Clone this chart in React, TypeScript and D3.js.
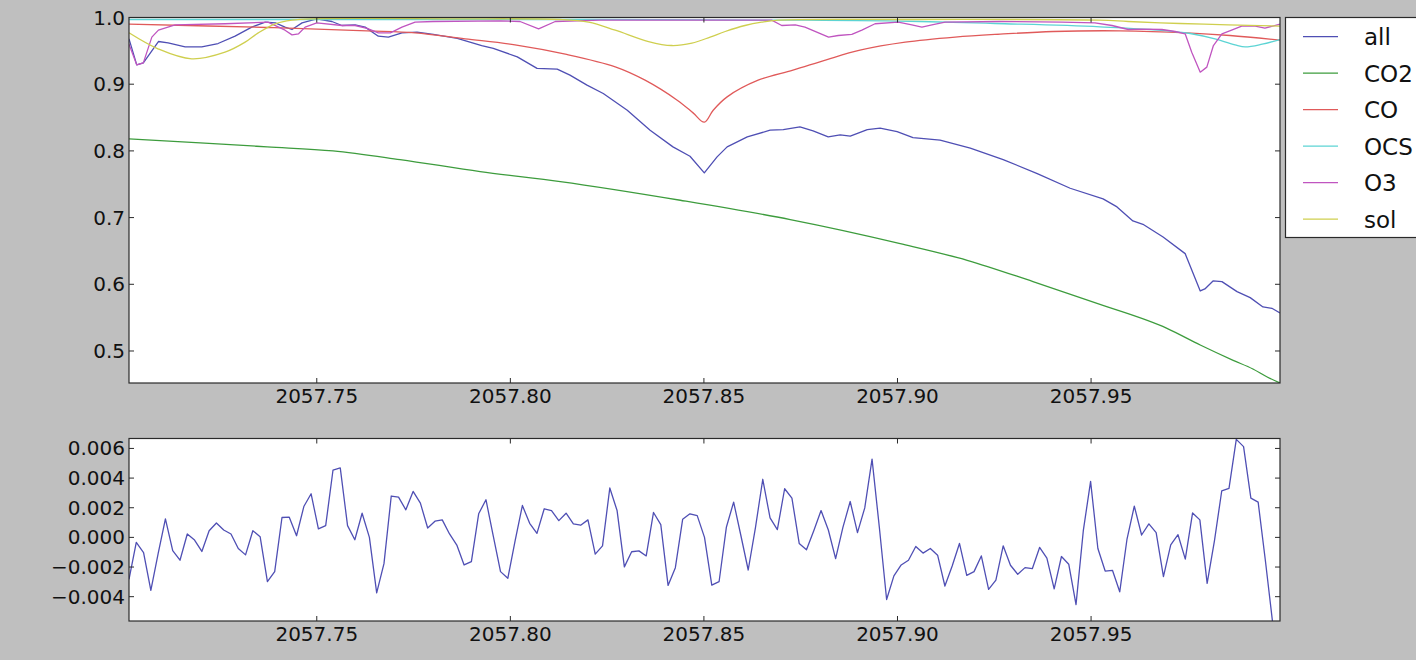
import React from "react";
import * as d3 from "d3";

// ---------- data ----------
const X_TICKS = [2057.75, 2057.8, 2057.85, 2057.9, 2057.95];
const TOP_Y_TICKS = [0.5, 0.6, 0.7, 0.8, 0.9, 1.0];
const RES_Y_TICKS = [-0.004, -0.002, 0.0, 0.002, 0.004, 0.006];
const X_DOMAIN = [2057.7015, 2057.9988];
const TOP_Y_DOMAIN = [0.452, 1.0];
const RES_Y_DOMAIN = [-0.00564, 0.00667];

const SERIES_NAMES = ["all", "CO2", "CO", "OCS", "O3", "sol"];
const SERIES_COLORS = ["#4f4fb4", "#3d9c3d", "#e05a5a", "#5cd4d4", "#c055c0", "#cfcf4f"];

const allX = [2057.7015, 2057.7035, 2057.7052, 2057.7074, 2057.7091, 2057.7116, 2057.716, 2057.7203, 2057.7245, 2057.7289, 2057.7332, 2057.7367, 2057.7393, 2057.7418, 2057.7436, 2057.7462, 2057.75, 2057.7539, 2057.7565, 2057.7599, 2057.7625, 2057.7659, 2057.7685, 2057.772, 2057.7759, 2057.7801, 2057.7863, 2057.7926, 2057.7956, 2057.8018, 2057.8069, 2057.8121, 2057.8154, 2057.8198, 2057.824, 2057.8302, 2057.8361, 2057.842, 2057.8464, 2057.8501, 2057.8534, 2057.856, 2057.8612, 2057.8671, 2057.8705, 2057.8748, 2057.8782, 2057.8821, 2057.8852, 2057.8878, 2057.8922, 2057.8955, 2057.8999, 2057.904, 2057.911, 2057.9188, 2057.9273, 2057.9361, 2057.9446, 2057.9531, 2057.9567, 2057.9608, 2057.9634, 2057.9686, 2057.9743, 2057.9782, 2057.9794, 2057.9815, 2057.9838, 2057.9877, 2057.9911, 2057.9944, 2057.9967, 2057.9988];
const allY = [0.968, 0.929, 0.932, 0.95, 0.964, 0.962, 0.956, 0.956, 0.961, 0.972, 0.9856, 0.993, 0.992, 0.9856, 0.982, 0.992, 0.998, 0.994, 0.988, 0.989, 0.9856, 0.972, 0.9706, 0.977, 0.978, 0.9746, 0.9687, 0.958, 0.9537, 0.941, 0.9237, 0.9226, 0.9136, 0.8987, 0.886, 0.861, 0.831, 0.806, 0.792, 0.767, 0.791, 0.806, 0.821, 0.831, 0.832, 0.836, 0.83, 0.821, 0.824, 0.822, 0.832, 0.834, 0.829, 0.82, 0.816, 0.804, 0.787, 0.766, 0.744, 0.728, 0.716, 0.695, 0.69, 0.671, 0.646, 0.59, 0.593, 0.605, 0.604, 0.589, 0.58, 0.566, 0.564, 0.557];

const co2X = [2057.7015, 2057.7199, 2057.7372, 2057.7542, 2057.7715, 2057.7922, 2057.8129, 2057.8439, 2057.8723, 2057.9007, 2057.918, 2057.935, 2057.9523, 2057.9696, 2057.9782, 2057.9867, 2057.9918, 2057.9955, 2057.9988];
const co2Y = [0.818, 0.812, 0.806, 0.8, 0.787, 0.769, 0.754, 0.726, 0.697, 0.661, 0.636, 0.604, 0.57, 0.534, 0.509, 0.486, 0.473, 0.461, 0.452];

const coX = [2057.7015, 2057.7372, 2057.763, 2057.7754, 2057.7883, 2057.8012, 2057.8142, 2057.8271, 2057.8348, 2057.8431, 2057.8472, 2057.8501, 2057.8524, 2057.856, 2057.864, 2057.873, 2057.8818, 2057.8903, 2057.902, 2057.9149, 2057.9265, 2057.9402, 2057.9575, 2057.9748, 2057.9859, 2057.9988];
const coY = [0.99, 0.985, 0.98, 0.977, 0.968, 0.959, 0.945, 0.926, 0.906, 0.876, 0.857, 0.843, 0.861, 0.881, 0.906, 0.921, 0.937, 0.951, 0.963, 0.9706, 0.975, 0.979, 0.98, 0.977, 0.973, 0.966];

const ocsX = [2057.7015, 2057.8232, 2057.8748, 2057.9058, 2057.9252, 2057.9523, 2057.9652, 2057.9756, 2057.982, 2057.9872, 2057.9898, 2057.9942, 2057.9988];
const ocsY = [0.997, 0.997, 0.996, 0.994, 0.991, 0.986, 0.982, 0.976, 0.968, 0.959, 0.956, 0.96, 0.967];

const o3X = [2057.7015, 2057.7035, 2057.7052, 2057.7074, 2057.7091, 2057.7134, 2057.7263, 2057.7374, 2057.7418, 2057.7436, 2057.7453, 2057.747, 2057.75, 2057.7565, 2057.7599, 2057.763, 2057.7659, 2057.769, 2057.772, 2057.7754, 2057.7801, 2057.7974, 2057.8025, 2057.8073, 2057.8116, 2057.8232, 2057.8675, 2057.8701, 2057.8736, 2057.8761, 2057.8822, 2057.8847, 2057.8882, 2057.8908, 2057.8942, 2057.9002, 2057.9037, 2057.9063, 2057.9089, 2057.9123, 2057.9265, 2057.9424, 2057.951, 2057.9554, 2057.9596, 2057.9631, 2057.9683, 2057.9717, 2057.9743, 2057.976, 2057.9782, 2057.9799, 2057.9816, 2057.9838, 2057.9863, 2057.9889, 2057.9924, 2057.9949, 2057.9988];
const o3Y = [0.96, 0.929, 0.932, 0.9706, 0.981, 0.989, 0.9906, 0.993, 0.981, 0.974, 0.9756, 0.9856, 0.992, 0.988, 0.988, 0.9836, 0.977, 0.977, 0.9856, 0.993, 0.994, 0.995, 0.994, 0.983, 0.994, 0.996, 0.996, 0.988, 0.989, 0.9856, 0.9706, 0.973, 0.9746, 0.981, 0.9906, 0.993, 0.989, 0.9856, 0.989, 0.993, 0.994, 0.993, 0.992, 0.988, 0.982, 0.9826, 0.982, 0.979, 0.9756, 0.948, 0.918, 0.9256, 0.958, 0.9756, 0.981, 0.987, 0.987, 0.984, 0.99];

const solX = [2057.7015, 2057.709, 2057.7177, 2057.7263, 2057.7315, 2057.7349, 2057.7393, 2057.7436, 2057.7487, 2057.7845, 2057.8129, 2057.8202, 2057.8271, 2057.8357, 2057.8417, 2057.8469, 2057.8516, 2057.8555, 2057.8606, 2057.8649, 2057.8692, 2057.9007, 2057.9523, 2057.9596, 2057.973, 2057.9854, 2057.9988];
const solY = [0.977, 0.953, 0.938, 0.948, 0.963, 0.977, 0.9906, 0.996, 0.998, 0.998, 0.997, 0.993, 0.981, 0.964, 0.958, 0.9616, 0.9706, 0.979, 0.988, 0.993, 0.996, 0.997, 0.996, 0.994, 0.991, 0.989, 0.987];

const RES_X_START = 2057.7015;
const RES_X_END = 2057.9988;
const residual = [
  -0.00283, -0.00034, -0.00102, -0.00358, -0.0011, 0.00125, -0.0009, -0.00154, 0.00023, -0.00018,
  -0.00095, 0.00045, 0.00097, 0.0005, 0.00023, -0.00075, -0.00118, 0.00045, 0.00005, -0.00299,
  -0.00231, 0.00134, 0.00136, 0.00011, 0.00208, 0.00294, 0.00057, 0.00079, 0.00453, 0.00469,
  0.00079, -0.00016, 0.00163, 0.0, -0.00374, -0.00177, 0.00279, 0.00272, 0.00186, 0.0031,
  0.00231, 0.00063, 0.00109, 0.00118, 0.00023, -0.00052, -0.00186, -0.00163, 0.00159,
  0.00254, 0.00011, -0.00231, -0.00276, -0.00023, 0.00215, 0.00095, 0.00027, 0.00193, 0.00181,
  0.00113, 0.00163, 0.00091, 0.00082, 0.00118, -0.00113, -0.00057, 0.00333, 0.00181, -0.00199,
  -0.00097, -0.00091, -0.00125, 0.00168, 0.00086, -0.00324, -0.00204, 0.00122, 0.00159, 0.00147,
  0.0, -0.00322, -0.00299, 0.00068, 0.00238, 0.00011, -0.0022, 0.00068, 0.00392, 0.00131,
  0.00052, 0.00328, 0.00265, -0.00041, -0.00084, 0.00045, 0.00181, 0.0005, -0.00143, 0.00068,
  0.00242, 0.00032, 0.00199, 0.00528, 0.00068, -0.00419, -0.0026, -0.00186, -0.00154, -0.00061,
  -0.00106, -0.00075, -0.0012,
  -0.00328, -0.00193, -0.00041, -0.00256, -0.00231, -0.00125, -0.00351, -0.00288, -0.00057, -0.00188,
  -0.00249, -0.00204, -0.00211, -0.00068, -0.0014, -0.00347, -0.00129, -0.00181, -0.00453, 0.00045,
  0.00378, -0.00075, -0.00227, -0.00222, -0.00367, -0.00011, 0.00211, 0.00016, 0.00091, 0.00032,
  -0.00265, -0.0005, 0.00018, -0.00147, 0.00165, 0.00118, -0.0031, -0.00023, 0.00313, 0.00331,
  0.00661, 0.00612, 0.00265, 0.00238, -0.00159, -0.0058, -0.0095,
];

// ---------- layout ----------
const W = 1416;
const H = 660;
const TOP = { left: 129, right: 1280, top: 17.5, bottom: 383 };
const BOT = { left: 129, right: 1280, top: 438.5, bottom: 621 };
const FONT = "DejaVu Sans, Liberation Sans, sans-serif";
const BG = "#bfbfbf";
const SPINE = "#2a2a2a";
const TICK_LEN = 5;

export default function App() {
  const x = d3.scaleLinear().domain(X_DOMAIN).range([TOP.left, TOP.right]);
  const yTop = d3.scaleLinear().domain(TOP_Y_DOMAIN).range([TOP.bottom, TOP.top]);
  const yRes = d3.scaleLinear().domain(RES_Y_DOMAIN).range([BOT.bottom, BOT.top]);

  const topSeries = [
    { xs: allX, ys: allY, curve: d3.curveLinear },
    { xs: co2X, ys: co2Y, curve: d3.curveMonotoneX },
    { xs: coX, ys: coY, curve: d3.curveCatmullRom.alpha(0.5) },
    { xs: ocsX, ys: ocsY, curve: d3.curveMonotoneX },
    { xs: o3X, ys: o3Y, curve: d3.curveLinear },
    { xs: solX, ys: solY, curve: d3.curveCatmullRom.alpha(0.5) },
  ];

  const makeLine = (curve: any) =>
    d3
      .line<[number, number]>()
      .x((d) => x(d[0]))
      .y((d) => yTop(d[1]))
      .curve(curve);

  const resStep = (RES_X_END - RES_X_START) / (residual.length - 1);
  const resPts: [number, number][] = residual.map((v, i) => [RES_X_START + i * resStep, v]);
  const resLine = d3
    .line<[number, number]>()
    .x((d) => x(d[0]))
    .y((d) => yRes(d[1]));

  const fmtX = d3.format(".2f");
  const fmtTop = d3.format(".1f");
  const fmtRes = d3.format(".3f");

  const renderAxes = (
    box: { left: number; right: number; top: number; bottom: number },
    yScale: any,
    yTicks: number[],
    fmtY: (v: number) => string
  ) => (
    <g>
      <rect
        x={box.left}
        y={box.top}
        width={box.right - box.left}
        height={box.bottom - box.top}
        fill="none"
        stroke={SPINE}
        strokeWidth={1.2}
      />
      {X_TICKS.map((t) => (
        <g key={"x" + t}>
          <line x1={x(t)} x2={x(t)} y1={box.bottom} y2={box.bottom - TICK_LEN} stroke={SPINE} />
          <line x1={x(t)} x2={x(t)} y1={box.top} y2={box.top + TICK_LEN} stroke={SPINE} />
          <text
            x={x(t)}
            y={box.bottom + 20}
            textAnchor="middle"
            fontFamily={FONT}
            fontSize={20}
            fill="#111"
          >
            {fmtX(t)}
          </text>
        </g>
      ))}
      {yTicks.map((t) => (
        <g key={"y" + t}>
          <line x1={box.left} x2={box.left + TICK_LEN} y1={yScale(t)} y2={yScale(t)} stroke={SPINE} />
          <line x1={box.right} x2={box.right - TICK_LEN} y1={yScale(t)} y2={yScale(t)} stroke={SPINE} />
          <text
            x={box.left - 4}
            y={yScale(t) + 7}
            textAnchor="end"
            fontFamily={FONT}
            fontSize={20}
            fill="#111"
          >
            {fmtY(t)}
          </text>
        </g>
      ))}
    </g>
  );

  const legendRowY = (i: number) => 36.7 + i * 36.5;

  return (
    <div style={{ position: "fixed", left: 0, top: 0, width: W, height: H }}>
      <svg width={W} height={H} style={{ display: "block" }}>
        <defs>
          <clipPath id="clipTop">
            <rect x={TOP.left} y={TOP.top} width={TOP.right - TOP.left} height={TOP.bottom - TOP.top} />
          </clipPath>
          <clipPath id="clipBot">
            <rect x={BOT.left} y={BOT.top} width={BOT.right - BOT.left} height={BOT.bottom - BOT.top} />
          </clipPath>
        </defs>
        <rect x={0} y={0} width={W} height={H} fill={BG} />

        {/* top panel */}
        <rect x={TOP.left} y={TOP.top} width={TOP.right - TOP.left} height={TOP.bottom - TOP.top} fill="#fff" />
        <g clipPath="url(#clipTop)">
          {topSeries.map((s, i) => {
            const pts: [number, number][] = s.xs.map((xv, j) => [xv, s.ys[j]]);
            return (
              <path
                key={SERIES_NAMES[i]}
                d={makeLine(s.curve)(pts) || ""}
                fill="none"
                stroke={SERIES_COLORS[i]}
                strokeWidth={1.3}
                strokeLinejoin="round"
              />
            );
          })}
        </g>
        {renderAxes(TOP, yTop, TOP_Y_TICKS, fmtTop)}

        {/* residual panel */}
        <rect x={BOT.left} y={BOT.top} width={BOT.right - BOT.left} height={BOT.bottom - BOT.top} fill="#fff" />
        <g clipPath="url(#clipBot)">
          <path d={resLine(resPts) || ""} fill="none" stroke="#4f4fb4" strokeWidth={1.3} strokeLinejoin="round" />
        </g>
        {renderAxes(BOT, yRes, RES_Y_TICKS, fmtRes)}

        {/* legend */}
        <rect x={1285.5} y={17.5} width={200} height={220} fill="#fff" stroke={SPINE} strokeWidth={1.2} />
        {SERIES_NAMES.map((name, i) => (
          <g key={"leg" + name}>
            <line
              x1={1303}
              x2={1338}
              y1={legendRowY(i)}
              y2={legendRowY(i)}
              stroke={SERIES_COLORS[i]}
              strokeWidth={1.3}
            />
            <text x={1364} y={legendRowY(i) + 8.5} fontFamily={FONT} fontSize={23} fill="#111">
              {name}
            </text>
          </g>
        ))}
      </svg>
    </div>
  );
}
